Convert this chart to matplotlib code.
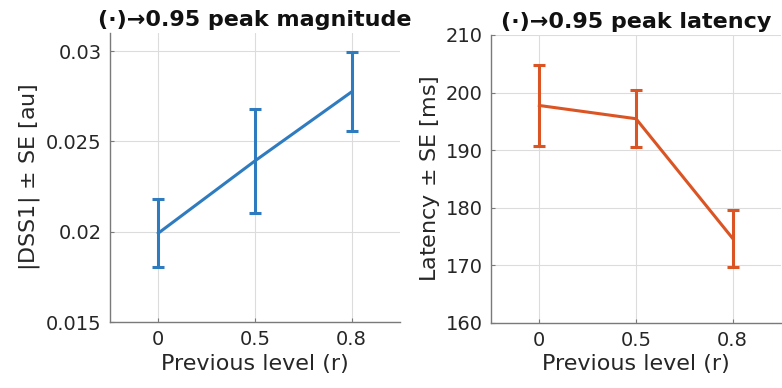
import matplotlib
matplotlib.use("Agg")
import matplotlib.pyplot as plt
import numpy as np

# previous-level conditions (categorical x)
levels = ["0", "0.5", "0.8"]

# peak magnitude |DSS1| mean and SE
mag_mean = [0.01992, 0.02392, 0.02774]
mag_se = [0.0019, 0.00288, 0.00218]

# peak latency [ms] mean and SE
lat_mean = [197.75, 195.45, 174.65]
lat_se = [7.05, 4.95, 4.95]

BLUE = "#2f7bc0"
ORANGE = "#db5424"
TXT = "#262626"
AX = "#7a7a7a"

plt.rcParams["font.family"] = ["DejaVu Sans"]
plt.rcParams["mathtext.fontset"] = "dejavusans"

fig = plt.figure(figsize=(7.82, 3.88), dpi=100)
ax1 = fig.add_axes([0.1407, 0.1701, 0.3708, 0.745])
ax2 = fig.add_axes([0.6279, 0.1683, 0.3708, 0.7415])

x = np.arange(1, len(levels) + 1)


def style(ax):
    for s in ("top", "right"):
        ax.spines[s].set_visible(False)
    for s in ("left", "bottom"):
        ax.spines[s].set_color(AX)
        ax.spines[s].set_linewidth(1.0)
    ax.set_xlim(0.5, 3.5)
    ax.set_xticks(x)
    ax.set_xticklabels(levels)
    ax.tick_params(direction="in", length=3, colors=AX, labelcolor=TXT,
                   labelsize=14, pad=6)
    ax.grid(True, color="#dcdcdc", linewidth=0.8)
    ax.set_axisbelow(True)
    ax.set_xlabel("Previous level (r)", fontsize=16, color=TXT, labelpad=3)


ax1.errorbar(x, mag_mean, yerr=mag_se, color=BLUE, linewidth=2.2,
             elinewidth=2.2, capsize=4.5, capthick=2.2)
ax1.set_ylim(0.015, 0.031)
ax1.set_yticks([0.015, 0.02, 0.025, 0.03])
ax1.set_yticklabels(["0.015", "0.02", "0.025", "0.03"])
style(ax1)
ax1.set_ylabel(r"|DSS1| $\pm$ SE [au]", fontsize=16, color=TXT, labelpad=3)
ax1.set_title("(·)→0.95 peak magnitude", fontsize=16,
              fontweight="bold", color="#111111", pad=5)

ax2.errorbar(x, lat_mean, yerr=lat_se, color=ORANGE, linewidth=2.2,
             elinewidth=2.2, capsize=4.5, capthick=2.2)
ax2.set_ylim(160, 210)
ax2.set_yticks(np.arange(160, 211, 10))
style(ax2)
ax2.set_ylabel(r"Latency $\pm$ SE [ms]", fontsize=16, color=TXT, labelpad=3)
ax2.set_title("(·)→0.95 peak latency", fontsize=16,
              fontweight="bold", color="#111111", pad=5)

fig.savefig("out.png", dpi=100)
